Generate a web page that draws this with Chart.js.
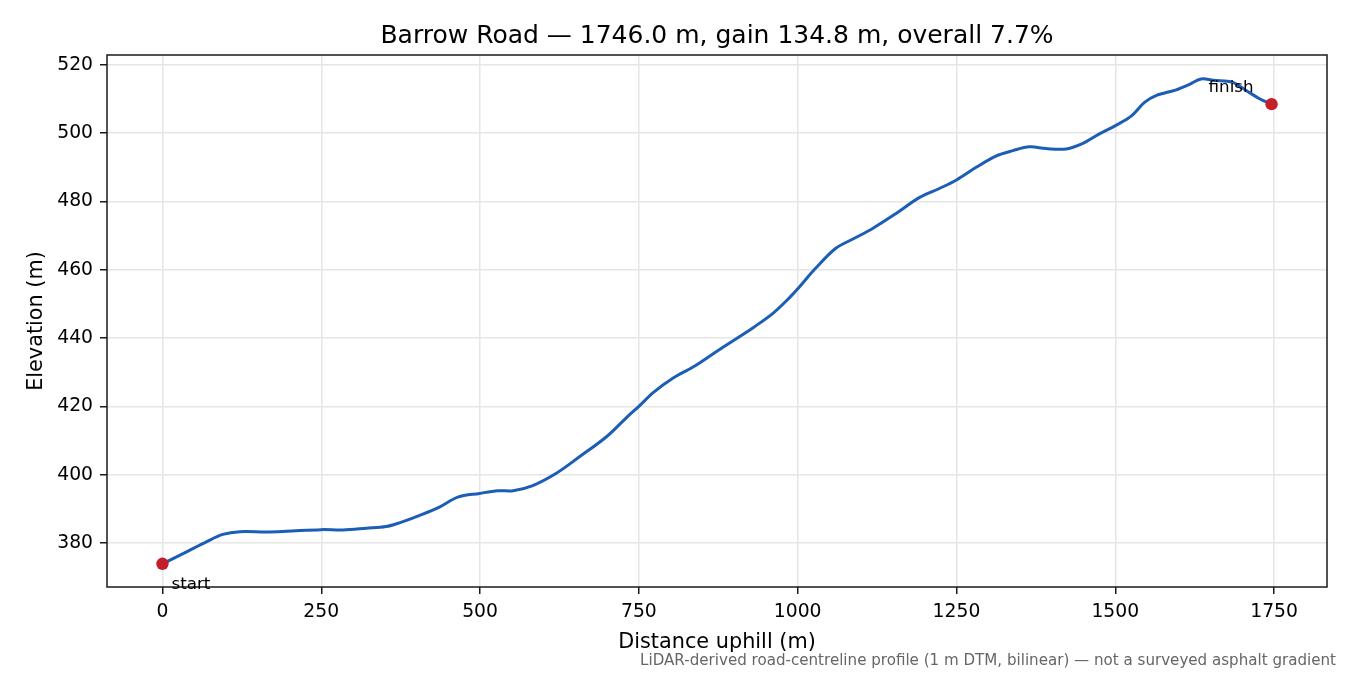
<!DOCTYPE html>
<html><head><meta charset="utf-8">
<script src="https://cdn.jsdelivr.net/npm/chart.js@4.4.1/dist/chart.umd.min.js"></script>
<style>html,body{margin:0;padding:0;background:#fff;}#wrap{width:1350px;height:675px;}</style>
</head><body><div id="wrap"><canvas id="c" width="1350" height="675"></canvas></div>
<script>
const distances = [0, 38, 69, 95, 122, 164, 195, 250, 284, 321, 352, 373, 405, 436, 465, 499, 528, 552, 583, 620, 657, 699, 731, 750, 773, 804, 836, 867, 899, 931, 962, 988, 1003, 1027, 1060, 1087, 1118, 1155, 1192, 1223, 1250, 1281, 1312, 1339, 1365, 1391, 1423, 1449, 1475, 1501, 1525, 1546, 1564, 1596, 1617, 1635, 1654, 1685, 1706, 1727, 1746];
const elevations = [373.9, 377.4, 380.3, 382.5, 383.3, 383.2, 383.4, 383.9, 383.8, 384.3, 384.8, 385.9, 388.1, 390.5, 393.4, 394.5, 395.3, 395.3, 396.8, 400.4, 405.3, 411.1, 416.8, 420.0, 424.1, 428.3, 431.6, 435.4, 439.3, 443.2, 447.4, 452.0, 455.0, 460.2, 466.3, 469.0, 472.1, 476.5, 481.2, 483.8, 486.3, 490.0, 493.3, 494.9, 496.0, 495.5, 495.4, 497.0, 499.8, 502.3, 505.0, 509.0, 511.0, 512.7, 514.3, 515.9, 515.5, 514.9, 512.5, 510.1, 508.5];
const xTickValues = [0, 250, 500, 750, 1000, 1250, 1500, 1750];
const yTickValues = [380, 400, 420, 440, 460, 480, 500, 520];
const endpointNames = ['start', 'finish'];
const titleText = 'Barrow Road — 1746.0 m, gain 134.8 m, overall 7.7%';
const xAxisLabel = 'Distance uphill (m)';
const yAxisLabel = 'Elevation (m)';
const footnoteText = 'LiDAR-derived road-centreline profile (1 m DTM, bilinear) — not a surveyed asphalt gradient';

const FONT = "'DejaVu Sans', sans-serif";
const lineData = distances.map((d, i) => ({x: d, y: elevations[i]}));
const lastIdx = distances.length - 1;
const endpointData = [
  {x: distances[0], y: elevations[0]},
  {x: distances[lastIdx], y: elevations[lastIdx]}
];

const textPlugin = {
  id: 'texts',
  afterDraw(chart) {
    const ctx = chart.ctx;
    const a = chart.chartArea;
    const xs = chart.scales.x, ys = chart.scales.y;
    ctx.save();
    ctx.strokeStyle = '#1a1a1a';
    ctx.lineWidth = 1.5;
    ctx.strokeRect(a.left, a.top, a.right - a.left, a.bottom - a.top);
    ctx.fillStyle = '#000';
    ctx.font = '25px ' + FONT;
    ctx.textAlign = 'center';
    ctx.textBaseline = 'alphabetic';
    ctx.fillText(titleText, (a.left + a.right) / 2, a.top - 12.5);
    ctx.font = '20.8px ' + FONT;
    ctx.fillText(xAxisLabel, (a.left + a.right) / 2, 648);
    ctx.save();
    ctx.translate(42, (a.top + a.bottom) / 2);
    ctx.rotate(-Math.PI / 2);
    ctx.fillText(yAxisLabel, 0, 0);
    ctx.restore();
    ctx.font = '16.7px ' + FONT;
    ctx.textAlign = 'left';
    const sx = xs.getPixelForValue(endpointData[0].x), sy = ys.getPixelForValue(endpointData[0].y);
    ctx.fillText(endpointNames[0], sx + 9, sy + 25);
    const fx = xs.getPixelForValue(endpointData[1].x), fy = ys.getPixelForValue(endpointData[1].y);
    ctx.fillText(endpointNames[1], fx - 63, fy - 12.5);
    ctx.font = '15.1px ' + FONT;
    ctx.fillStyle = '#666';
    ctx.textAlign = 'right';
    ctx.fillText(footnoteText, 1336, 665);
    ctx.restore();
  }
};

new Chart(document.getElementById('c'), {
  type: 'line',
  data: {
    datasets: [
      {
        label: 'endpoints',
        data: endpointData,
        showLine: false,
        pointRadius: 6.2,
        pointBackgroundColor: '#c41e2b',
        pointBorderColor: '#c41e2b',
        pointBorderWidth: 0,
        clip: false
      },
      {
        label: 'elevation',
        data: lineData,
        borderColor: '#1c5db5',
        borderWidth: 3,
        pointRadius: 0,
        fill: false,
        tension: 0.35
      }
    ]
  },
  options: {
    responsive: false,
    animation: false,
    devicePixelRatio: 1,
    layout: {padding: {left: 0, right: 23, top: 55, bottom: 0}},
    plugins: {legend: {display: false}, tooltip: {enabled: false}, title: {display: false}},
    scales: {
      x: {
        type: 'linear',
        min: -87.3,
        max: 1833.3,
        afterBuildTicks: s => { s.ticks = xTickValues.map(v => ({value: v})); },
        afterFit: s => { s.height = 88; },
        ticks: {font: {family: FONT, size: 18.75}, color: '#000', padding: 7, maxRotation: 0, autoSkip: false,
          callback: v => String(v)},
        grid: {color: '#e6e6e6', lineWidth: 1.5, tickColor: '#1a1a1a', tickLength: 7, tickWidth: 1.5},
        border: {display: false}
      },
      y: {
        type: 'linear',
        min: 367.1,
        max: 522.9,
        afterBuildTicks: s => { s.ticks = yTickValues.map(v => ({value: v})); },
        afterFit: s => { s.width = 107; },
        ticks: {font: {family: FONT, size: 18.75}, color: '#000', padding: 7, autoSkip: false,
          callback: v => String(v)},
        grid: {color: '#e6e6e6', lineWidth: 1.5, tickColor: '#1a1a1a', tickLength: 7, tickWidth: 1.5},
        border: {display: false}
      }
    }
  },
  plugins: [textPlugin]
});
</script>
</body></html>
